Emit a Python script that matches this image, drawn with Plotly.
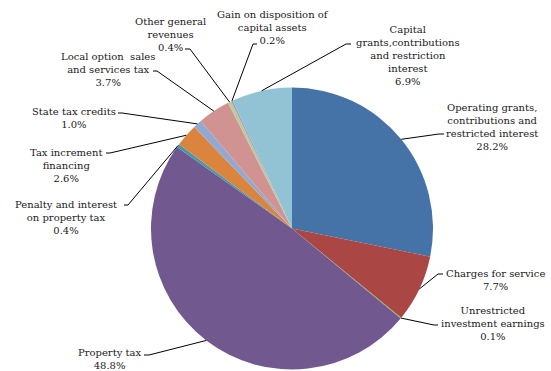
import math
import plotly.graph_objects as go

# ---- data ----
categories = [
    "Operating grants, contributions and restricted interest",
    "Charges for service",
    "Unrestricted investment earnings",
    "Property tax",
    "Penalty and interest on property tax",
    "Tax increment financing",
    "State tax credits",
    "Local option sales and services tax",
    "Other general revenues",
    "Gain on disposition of capital assets",
    "Capital grants,contributions and restriction interest",
]
values = [28.2, 7.7, 0.1, 48.8, 0.4, 2.6, 1.0, 3.7, 0.4, 0.2, 6.9]
label_texts = [
    "Operating grants,<br>contributions and<br>restricted interest",
    "Charges for service",
    "Unrestricted<br>investment earnings",
    "Property tax",
    "Penalty and interest<br>on property tax",
    "Tax increment<br>financing",
    "State tax credits",
    "Local option  sales<br>and services tax",
    "Other general<br>revenues",
    "Gain on disposition of<br>capital assets",
    "Capital<br>grants,contributions<br>and restriction<br>interest",
]
colors = ["#4572A7", "#AA4643", "#89A54E", "#71588F", "#4198AF", "#DB843D",
          "#93A9CF", "#D19392", "#B9CD96", "#A99BBD", "#92C3D4"]

# ---- layout (pixels) ----
W, H = 551, 371
CX, CY, R = 292, 228.5, 141
# label text centre (x, y), elbow point (x, y), tail end x
label_layout = [
    ((492, 127), (439, 134), 444),
    ((495, 280), (438, 274), 443),
    ((493, 323), (434, 325), 438),
    ((110, 359), (149, 355), 144),
    ((66, 217), (128, 205), 124),
    ((66, 165), (110, 153), 106),
    ((74, 118), (122, 113), 118),
    ((108, 69), (157, 71), 153),
    ((170, 35), (190, 49), 185),
    ((273, 28), (253, 44), 257),
    ((408, 55), (346, 44), 351),
]

def px(x):
    return x / W

def py(y):
    return 1 - y / H

fig = go.Figure()
fig.add_trace(go.Pie(
    labels=categories,
    values=values,
    sort=False,
    direction="clockwise",
    rotation=0,
    marker=dict(colors=colors, line=dict(width=0)),
    textinfo="none",
    hoverinfo="label+percent",
    domain=dict(x=[(CX - R) / W, (CX + R) / W], y=[py(CY + R), py(CY - R)]),
    showlegend=False,
))

total = sum(values)
cum = 0.0
annotations = []
shapes = []
for cat, val, txt, (tc, el, tail) in zip(categories, values, label_texts, label_layout):
    mid = (cum + val / 2) / total * 2 * math.pi
    cum += val
    ax = CX + R * math.sin(mid)
    ay = CY - R * math.cos(mid)
    path = "M {} {} L {} {} L {} {}".format(px(ax), py(ay), px(el[0]), py(el[1]), px(tail), py(el[1]))
    shapes.append(dict(type="path", xref="paper", yref="paper", path=path,
                       line=dict(color="#000000", width=1)))
    annotations.append(dict(
        x=px(tc[0]), y=py(tc[1]), xref="paper", yref="paper",
        text=txt + "<br>{:.1f}%".format(val),
        showarrow=False, xanchor="center", yanchor="middle", align="center",
        font=dict(family="DejaVu Serif", size=10, color="#1a1a1a"),
    ))

fig.update_layout(
    width=W, height=H,
    margin=dict(l=0, r=0, t=0, b=0),
    paper_bgcolor="white", plot_bgcolor="white",
    annotations=annotations, shapes=shapes,
    showlegend=False,
)
fig.write_html("out.html")
